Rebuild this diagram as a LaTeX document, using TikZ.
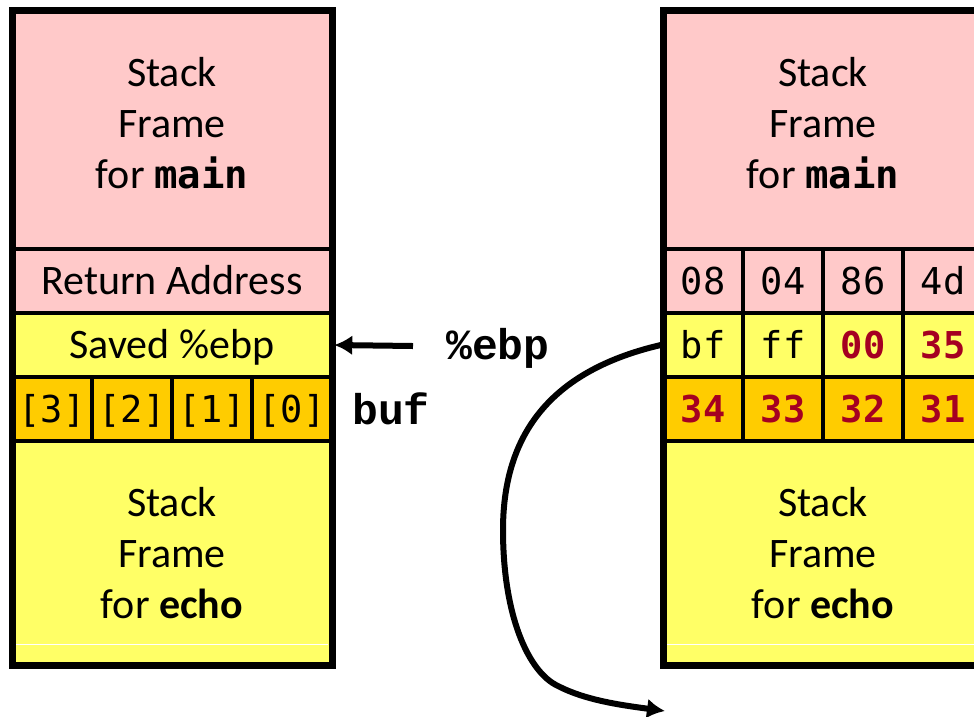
\documentclass[tikz,border=0pt]{standalone}
\usepackage{fontspec}
\setmainfont{Carlito}
\newfontfamily\cellmono{DejaVu Sans Mono}
\newfontfamily\codefont{Liberation Mono}
\usetikzlibrary{arrows.meta}
\definecolor{framepink}{HTML}{FFC9C9}
\definecolor{frameyellow}{HTML}{FFFF66}
\definecolor{bufgold}{HTML}{FFCC00}
\definecolor{bytered}{HTML}{A50021}
\tikzset{
  slot/.style={draw=black, line width=4.5pt, inner sep=0pt, minimum width=320pt,
    font=\fontsize{42}{51}\selectfont, text height=26pt, text depth=0pt},
  frametext/.style={inner sep=0pt, align=center, font=\fontsize{42}{51}\selectfont},
  bytecell/.style={draw=black, line width=4.5pt, inner sep=0pt, minimum width=80pt,
    minimum height=64pt, text height=26pt, text depth=0pt,
    font=\cellmono\fontsize{37}{40}\selectfont},
  hot/.style={text=bytered, font=\cellmono\bfseries\fontsize{37}{40}\selectfont},
  outline/.style={draw=black, line width=7pt},
  codelabel/.style={font=\codefont\bfseries\fontsize{43}{48}\selectfont, inner sep=0pt},
  pointer/.style={line width=6pt, -{Latex[length=18pt,width=20pt]}},
}
\newcommand{\mainname}{\textbf{\cellmono\fontsize{39}{51}\selectfont main}}
\begin{document}
\begin{tikzpicture}[x=1pt,y=-1pt]
\useasboundingbox (0,0) rectangle (974,716);
\clip (0,0) rectangle (974,716);

% ---- left stack: before the overflow ----
\node[slot, fill=framepink, minimum height=239pt] (lmain) at (172,129.5) {};
\node[frametext] (lmaintext) at (172,123) {Stack\\Frame\\for \mainname};
\node[slot, fill=framepink, minimum height=64pt] (lret) at (172,281) {Return Address};
\node[slot, fill=frameyellow, minimum height=64pt] (lebp) at (172,345) {Saved \%ebp};
\foreach \i/\lab in {0/[3],1/[2],2/[1],3/[0]}
  \node[bytecell, fill=bufgold] (lbuf\i) at (52+80*\i,409) {\lab};
\node[slot, fill=frameyellow, minimum height=224pt] (lecho) at (172,553) {};
\node[frametext] (lechotext) at (172,553) {Stack\\Frame\\for \textbf{echo}};
\draw[white, line width=1pt] (16,644) -- (328,644);
\draw[outline] (12.5,10) rectangle (332.5,665);

% ---- labels ----
\node[codelabel, anchor=base west] (ebplabel) at (446,359) {\%ebp};
\node[codelabel, anchor=base west] (buflabel) at (352,424) {buf};
\coordinate (ebptail) at (413,346);
\draw[pointer] (ebptail) -- (lebp.east);

% ---- right stack: after the overflow ----
\node[slot, fill=framepink, minimum height=239pt] (rmain) at (823,129.5) {};
\node[frametext] (rmaintext) at (823,123) {Stack\\Frame\\for \mainname};
\foreach \i/\lab in {0/08,1/04,2/86,3/4d}
  \node[bytecell, fill=framepink] (rret\i) at (703+80*\i,281) {\lab};
\node[bytecell, fill=frameyellow] (rebp0) at (703,345) {bf};
\node[bytecell, fill=frameyellow] (rebp1) at (783,345) {ff};
\node[bytecell, fill=frameyellow, hot] (rebp2) at (863,345) {00};
\node[bytecell, fill=frameyellow, hot] (rebp3) at (943,345) {35};
\foreach \i/\lab in {0/34,1/33,2/32,3/31}
  \node[bytecell, fill=bufgold, hot] (rbuf\i) at (703+80*\i,409) {\lab};
\node[slot, fill=frameyellow, minimum height=224pt] (recho) at (823,553) {};
\node[frametext] (rechotext) at (823,553) {Stack\\Frame\\for \textbf{echo}};
\draw[white, line width=1pt] (667,644) -- (979,644);
\draw[outline] (663.5,10) rectangle (983.5,665);

% ---- corrupted frame pointer now points to garbage ----
\coordinate (garbage) at (665,711);
\draw[pointer] (rebp0.west) .. controls (545,372) and (503,440) .. (503,530)
  .. controls (503,615) and (528,672) .. (558,686)
  .. controls (585,700) and (620,705) .. (garbage);
\end{tikzpicture}
\end{document}
